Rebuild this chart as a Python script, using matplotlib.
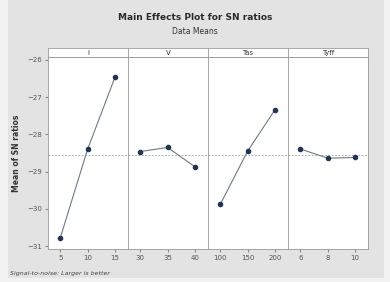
import matplotlib.pyplot as plt
from matplotlib.patches import Rectangle

# factor levels and mean S/N ratios
factors = ["I", "V", "Tas", "Tyff"]
levels = [[5, 10, 15], [30, 35, 40], [100, 150, 200], [6, 8, 10]]
sn_means = [
    [-30.78, -28.40, -26.47],
    [-28.46, -28.35, -28.87],
    [-29.88, -28.45, -27.34],
    [-28.39, -28.64, -28.62],
]
y_ticks = [-26, -27, -28, -29, -30, -31]
grand_mean = -28.56

BG = "#e3e3e3"
LINE = "#6d7a8a"
MARK = "#1e3556"

fig = plt.figure(figsize=(3.9, 2.82), dpi=100, facecolor="#f2f2f2")
fig.patches.append(Rectangle((8 / 390, 4 / 282), 376 / 390, 278 / 282,
                             transform=fig.transFigure, facecolor=BG,
                             edgecolor="none", zorder=-10))

left, right = 48 / 390, 368 / 390
bottom, top = 1 - 249 / 282, 1 - 57 / 282
strip_h = 9 / 282
w = (right - left) / len(factors)

for i, (name, lv, vals) in enumerate(zip(factors, levels, sn_means)):
    ax = fig.add_axes([left + i * w, bottom, w, top - bottom])
    ax.set_facecolor("white")
    step = lv[1] - lv[0]
    ax.set_xlim(lv[0] - 0.45 * step, lv[-1] + 0.48 * step)
    ax.set_ylim(-31.08, -25.92)
    ax.axhline(grand_mean, color="#9a9a9a", lw=0.6, ls=(0, (2, 2)), zorder=1)
    ax.plot(lv, vals, color=LINE, lw=0.8, zorder=2)
    ax.plot(lv, vals, "o", color=MARK, ms=3.0, zorder=3)
    ax.set_xticks(lv)
    ax.set_xticklabels([str(v) for v in lv])
    ax.tick_params(axis="x", labelsize=5, length=2, color="#888888",
                   colors="#555555", pad=2)
    if i == 0:
        ax.set_yticks(y_ticks)
        ax.tick_params(axis="y", labelsize=5, length=2, color="#888888",
                       colors="#555555", pad=2)
        ax.set_ylabel("Mean of SN ratios", fontsize=5.5, fontweight="bold",
                      color="#333333", labelpad=5)
    else:
        ax.set_yticks(y_ticks)
        ax.tick_params(axis="y", left=False, labelleft=False)
    for s in ax.spines.values():
        s.set_color("#9a9a9a")
        s.set_linewidth(0.6)

    sax = fig.add_axes([left + i * w, top, w, strip_h])
    sax.set_facecolor("white")
    sax.set_xticks([])
    sax.set_yticks([])
    for s in sax.spines.values():
        s.set_color("#9a9a9a")
        s.set_linewidth(0.6)
    sax.text(0.5, 0.45, name, ha="center", va="center", fontsize=5,
             color="#333333", transform=sax.transAxes)

fig.text(0.5, 1 - 18 / 282, "Main Effects Plot for SN ratios", ha="center",
         va="center", fontsize=6.5, fontweight="bold", color="#2a2a2a")
fig.text(0.5, 1 - 32 / 282, "Data Means", ha="center", va="center",
         fontsize=5.5, color="#333333")
fig.text(10 / 390, 1 - 273 / 282, "Signal-to-noise: Larger is better",
         ha="left", va="center", fontsize=4.5, style="italic", color="#444444")

fig.savefig("out.png", dpi=100, facecolor=fig.get_facecolor())
